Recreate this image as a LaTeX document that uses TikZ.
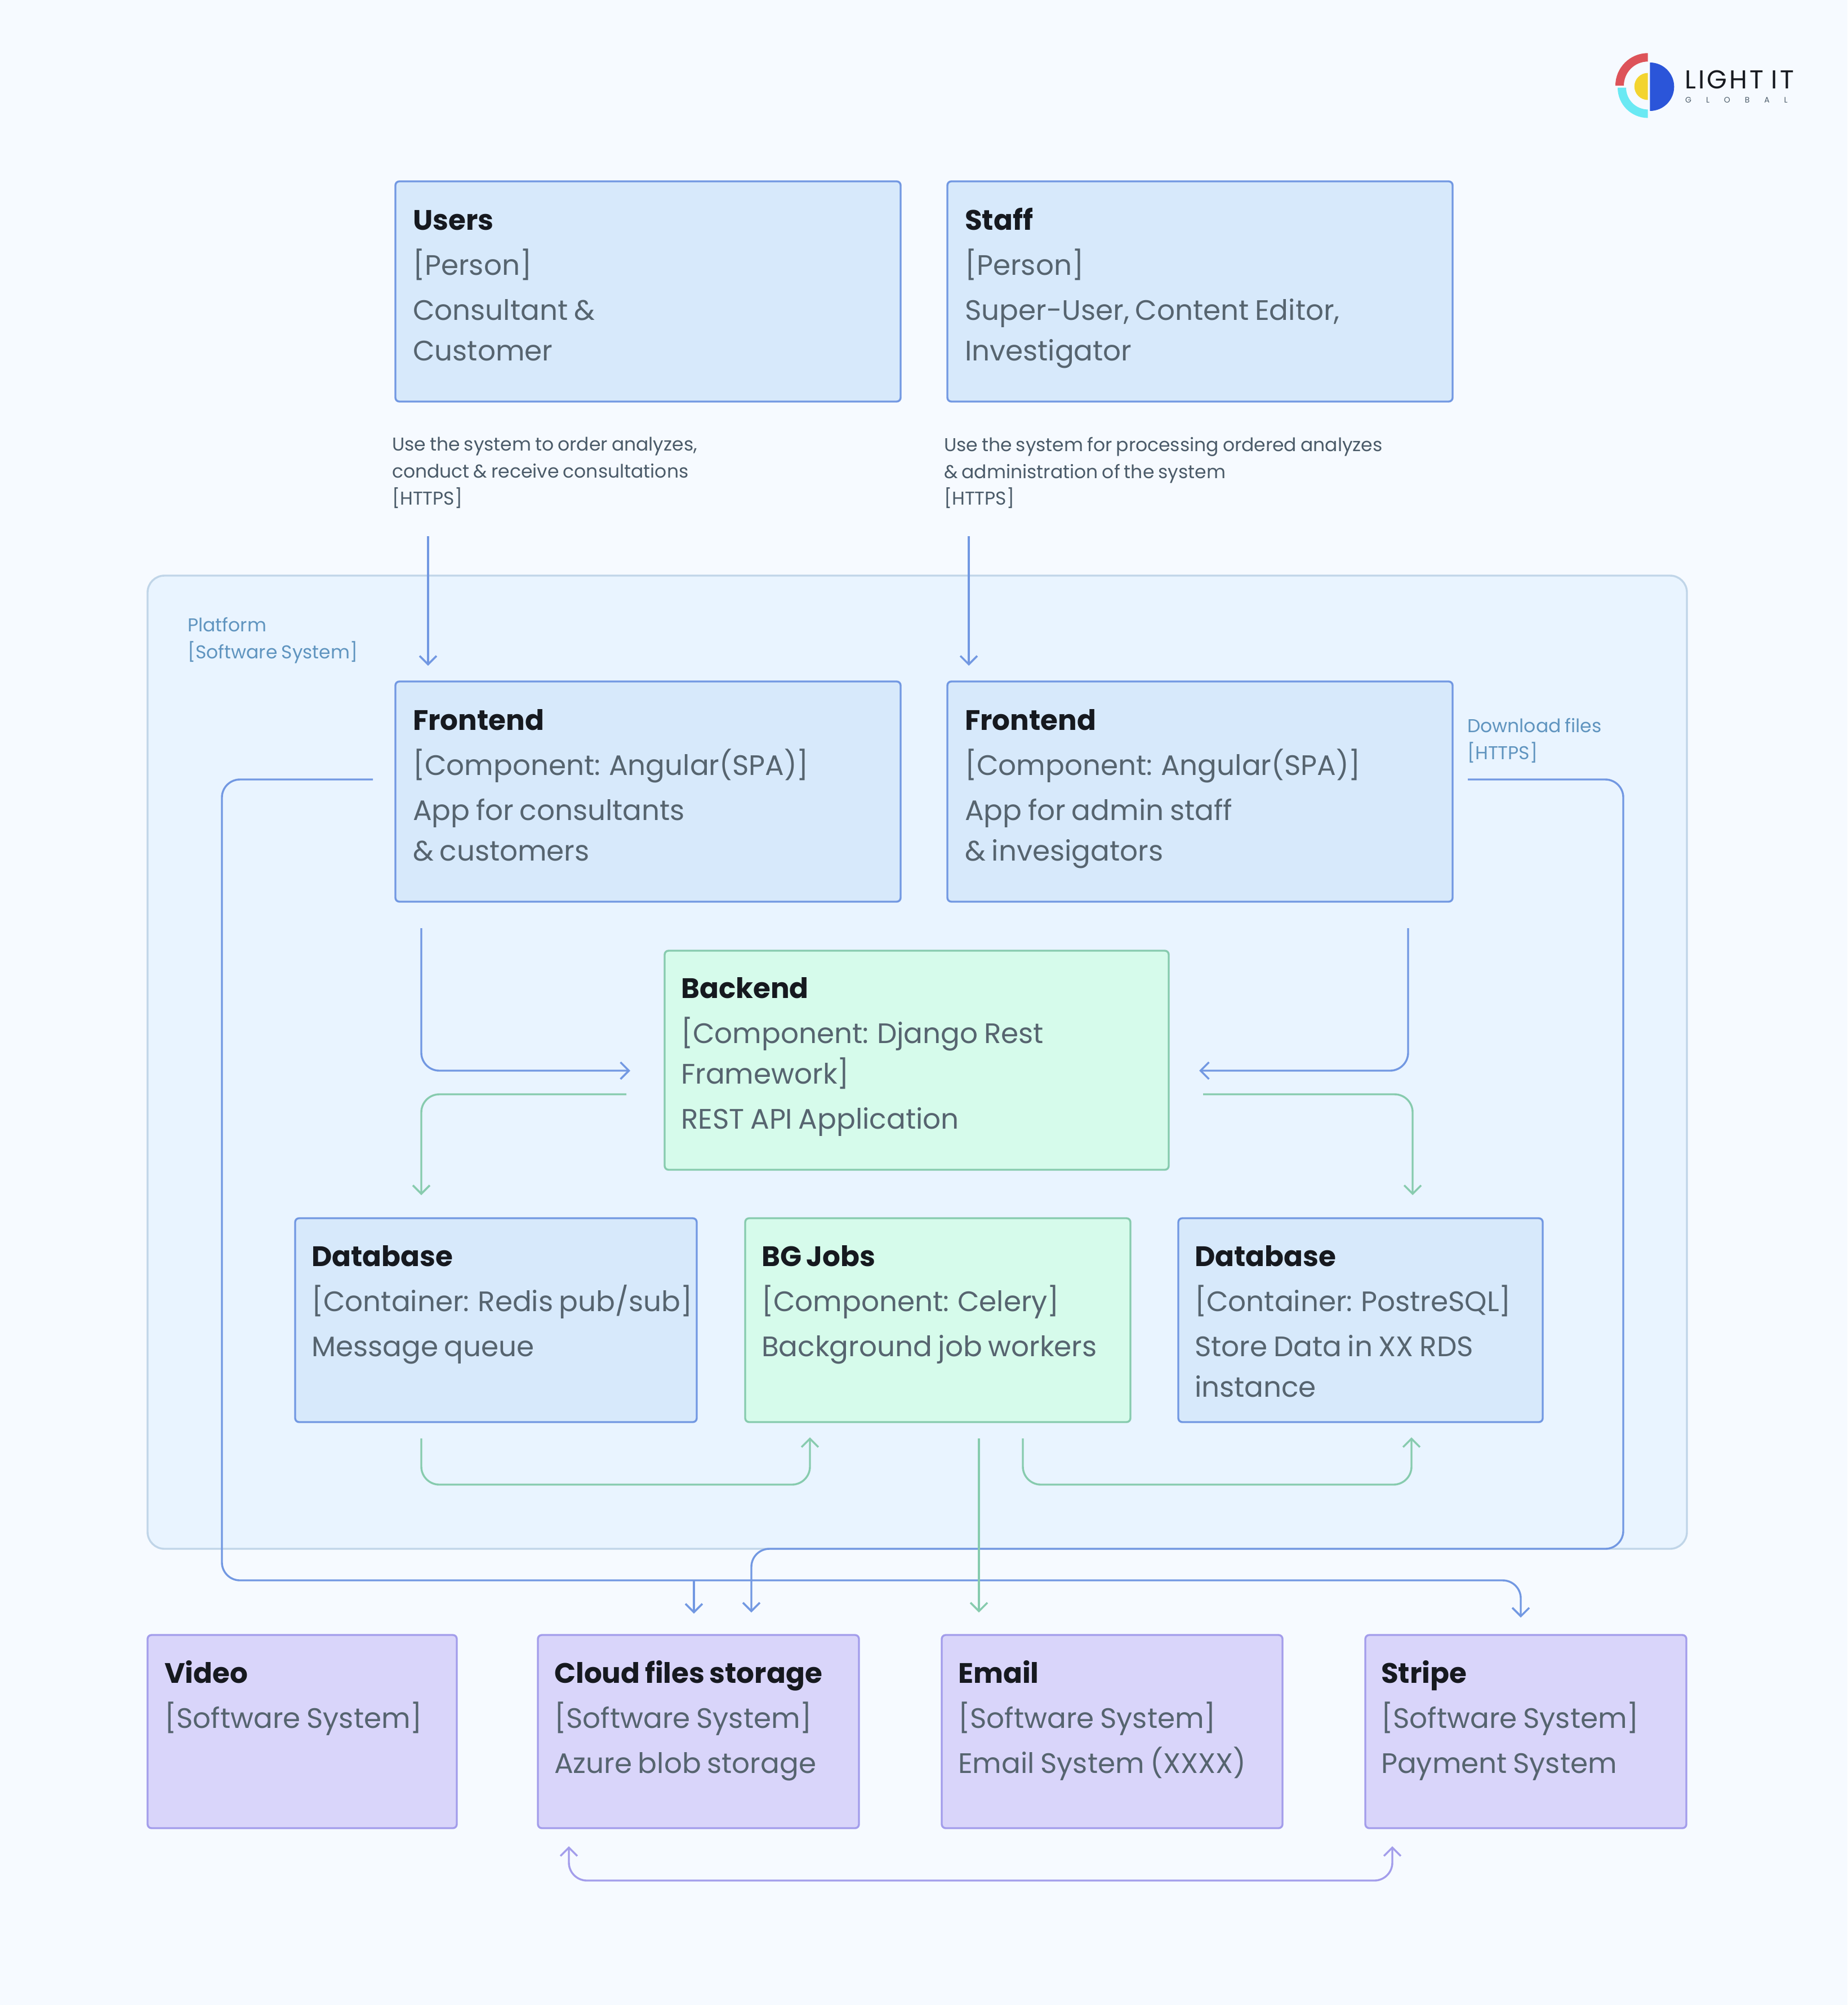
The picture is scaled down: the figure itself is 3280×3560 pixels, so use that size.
\documentclass[tikz,border=0pt]{standalone}
\usepackage{fontspec}
\setmainfont{Poppins}[WordSpace=0.8]
\usetikzlibrary{arrows.meta}
\definecolor{pagebg}{HTML}{F6FAFF}
\definecolor{platfill}{HTML}{E9F4FF}
\definecolor{platline}{HTML}{C0D5E8}
\definecolor{platlabel}{HTML}{5F94BF}
\definecolor{bluefill}{HTML}{D7E9FB}
\definecolor{blueline}{HTML}{7298E2}
\definecolor{greenfill}{HTML}{D6FBEB}
\definecolor{greenline}{HTML}{87CBAE}
\definecolor{violetfill}{HTML}{D9D5FA}
\definecolor{violetline}{HTML}{A39DEB}
\definecolor{titleink}{HTML}{16191F}
\definecolor{bodyink}{HTML}{56646F}
\definecolor{noteink}{HTML}{4A5A68}
\definecolor{logored}{HTML}{DD5359}
\definecolor{logocyan}{HTML}{6AE9F3}
\definecolor{logoyellow}{HTML}{F3D42F}
\definecolor{logoblue}{HTML}{2B55D9}
\newcommand{\ttl}[1]{{\bfseries\color{titleink}\rule{0pt}{52pt}#1}\\[8pt]}
\tikzset{
  box/.style={draw,line width=3.4pt,rounded corners=7pt,anchor=north west,inner sep=0pt,outer sep=0pt},
  bluebox/.style={box,draw=blueline,fill=bluefill},
  greenbox/.style={box,draw=greenline,fill=greenfill},
  violetbox/.style={box,draw=violetline,fill=violetfill},
  boxtext/.style={anchor=north west,inner sep=0pt,align=left,text=bodyink,font=\fontsize{50}{72}\selectfont},
  note/.style={anchor=north west,inner sep=0pt,align=left,text=noteink,font=\fontsize{33}{47.7}\selectfont},
  platnote/.style={note,text=platlabel},
  wire/.style={line width=3.4pt,rounded corners=32pt,-{Straight Barb[length=15pt,width=30pt,line width=3.4pt]}},
  bluewire/.style={wire,draw=blueline},
  greenwire/.style={wire,draw=greenline},
  violetwire/.style={wire,draw=violetline}
}
\begin{document}
\begin{tikzpicture}[x=1pt,y=-1pt]
\fill[pagebg] (0,0) rectangle (3280,3560);
\useasboundingbox (0,0) rectangle (3280,3560);
% platform
\node(platform) [box,draw=platline,fill=platfill,rounded corners=30pt,minimum width=2733pt,minimum height=1728pt] at (262,1022) {};
\node(platformnote) [platnote] at (333,1096) {Platform\\{}[Software System]};
% boxes
\node(users) [bluebox,minimum width=897pt,minimum height=391pt] at (702,322) {};
\node(staff) [bluebox,minimum width=897pt,minimum height=391pt] at (1682,322) {};
\node(front1) [bluebox,minimum width=897pt,minimum height=391pt] at (702,1210) {};
\node(front2) [bluebox,minimum width=897pt,minimum height=391pt] at (1682,1210) {};
\node(backend) [greenbox,minimum width=895pt,minimum height=389pt] at (1180,1688) {};
\node(redis) [bluebox,minimum width=713pt,minimum height=362pt] at (524,2163) {};
\node(jobs) [greenbox,minimum width=684pt,minimum height=362pt] at (1323,2163) {};
\node(postgres) [bluebox,minimum width=647pt,minimum height=362pt] at (2092,2163) {};
\node(video) [violetbox,minimum width=549pt,minimum height=343pt] at (262,2903) {};
\node(cloud) [violetbox,minimum width=570pt,minimum height=343pt] at (955,2903) {};
\node(email) [violetbox,minimum width=605pt,minimum height=343pt] at (1672,2903) {};
\node(stripe) [violetbox,minimum width=570pt,minimum height=343pt] at (2424,2903) {};
% box texts
\node(userstext) [boxtext] at (733,356) {\ttl{Users}[Person]\\[8pt]Consultant \&\\Customer};
\node(stafftext) [boxtext] at (1713,356) {\ttl{Staff}[Person]\\[8pt]Super-User, Content Editor,\\Investigator};
\node(front1text) [boxtext] at (733,1244) {\ttl{Frontend}[Component: Angular(SPA)]\\[8pt]App for consultants\\\& customers};
\node(front2text) [boxtext] at (1713,1244) {\ttl{Frontend}[Component: Angular(SPA)]\\[8pt]App for admin staff\\\& invesigators};
\node(backendtext) [boxtext] at (1209,1720) {\ttl{Backend}[Component: Django Rest\\Framework]\\[8pt]REST API Application};
\node(redistext) [boxtext] at (553,2196) {\ttl{Database}[Container: Redis pub/sub]\\[8pt]Message queue};
\node(jobstext) [boxtext] at (1352,2196) {\ttl{BG Jobs}[Component: Celery]\\[8pt]Background job workers};
\node(postgrestext) [boxtext] at (2121,2196) {\ttl{Database}[Container: PostreSQL]\\[8pt]Store Data in XX RDS\\instance};
\node(videotext) [boxtext] at (292,2936) {\ttl{Video}[Software System]};
\node(cloudtext) [boxtext] at (984,2936) {\ttl{Cloud files storage}[Software System]\\[8pt]Azure blob storage};
\node(emailtext) [boxtext] at (1701,2936) {\ttl{Email}[Software System]\\[8pt]Email System (XXXX)};
\node(stripetext) [boxtext] at (2452,2936) {\ttl{Stripe}[Software System]\\[8pt]Payment System};
% notes
\node(usersnote) [note] at (696,776) {Use the system to order analyzes,\\conduct \& receive consultations\\{}[HTTPS]};
\node(staffnote) [note] at (1676,776) {Use the system for processing ordered analyzes\\\& administration of the system\\{}[HTTPS]};
\node(downloadnote) [platnote] at (2605,1275) {Download files\\{}[HTTPS]};
% wire ends
\coordinate(u1) at (760,952); \coordinate(f1in) at (760,1182);
\coordinate(s1) at (1720,952); \coordinate(f2in) at (1720,1182);
\coordinate(f1l) at (662,1384); \coordinate(stripein) at (2700,2872); \coordinate(cl1) at (1232,2806); \coordinate(cloudin1) at (1232,2865);
\coordinate(f2r) at (2606,1384); \coordinate(cloudin2) at (1334,2863);
\coordinate(f1b) at (748,1648); \coordinate(bein1) at (1119,1901);
\coordinate(f2b) at (2500,1648); \coordinate(bein2) at (2129,1901);
\coordinate(bel) at (1112,1943); \coordinate(redisin) at (748,2122);
\coordinate(ber) at (2136,1943); \coordinate(pgin) at (2508,2122);
\coordinate(r1) at (748,2554); \coordinate(jobsin) at (1438,2552);
\coordinate(j1) at (1816,2554); \coordinate(pgin2) at (2506,2552);
\coordinate(j2) at (1738,2554); \coordinate(emailin) at (1738,2863);
\coordinate(cl2) at (1010,3278); \coordinate(st2) at (2472,3278);
% blue wires
\draw[bluewire] (u1) -- (f1in);
\draw[bluewire] (s1) -- (f2in);
\draw[bluewire] (f1l) -- (394,1384) -- (394,2806) -- (2700,2806) -- (stripein);
\draw[bluewire,rounded corners=0pt] (cl1) -- (cloudin1);
\draw[bluewire] (f2r) -- (2882,1384) -- (2882,2750) -- (1334,2750) -- (cloudin2);
\draw[bluewire] (f1b) -- (748,1901) -- (bein1);
\draw[bluewire] (f2b) -- (2500,1901) -- (bein2);
% green wires
\draw[greenwire] (bel) -- (748,1943) -- (redisin);
\draw[greenwire] (ber) -- (2508,1943) -- (pgin);
\draw[greenwire] (r1) -- (748,2636) -- (1438,2636) -- (jobsin);
\draw[greenwire] (j1) -- (1816,2636) -- (2506,2636) -- (pgin2);
\draw[greenwire] (j2) -- (emailin);
% violet wire
\draw[violetwire,{Straight Barb[length=15pt,width=30pt,line width=3.4pt]}-{Straight Barb[length=15pt,width=30pt,line width=3.4pt]}] (cl2) -- (1010,3339) -- (2472,3339) -- (st2);
% logo
\fill[logored] (2868,152) arc[start angle=180,end angle=270,radius=57.7] -- (2925.7,109.3) arc[start angle=270,end angle=180,radius=42.7] -- cycle;
\fill[logocyan] (2872,155.7) arc[start angle=180,end angle=90,radius=53.7] -- (2925.7,194.4) arc[start angle=90,end angle=180,radius=38.7] -- cycle;
\fill[logoyellow] (2925.7,129.5) arc[start angle=270,end angle=90,radius=24] -- cycle;
\fill[logoblue] (2929.3,111) arc[start angle=-90,end angle=90,radius=43] -- cycle;
\node(logoname) [anchor=base west,inner sep=0pt,text=titleink,font=\fontsize{46}{50}\selectfont\addfontfeature{LetterSpace=9}] at (2991,157) {LIGHT IT};
\node(logosub) [anchor=base west,inner sep=0pt,text=noteink,font=\fontsize{14}{16}\selectfont\addfontfeature{LetterSpace=185}] at (2992,182) {GLOBAL};
\end{tikzpicture}
\end{document}
